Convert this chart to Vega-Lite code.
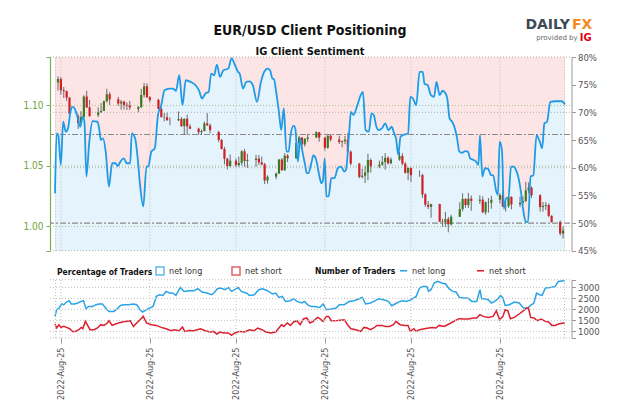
{
  "$schema": "https://vega.github.io/schema/vega-lite/v6.json",
  "width": 520,
  "height": 281,
  "autosize": {"type": "none"},
  "padding": {"left": 50, "top": 57, "right": 54, "bottom": 78},
  "background": "white",
  "title": {
    "text": "EUR/USD Client Positioning",
    "subtitle": "IG Client Sentiment",
    "frame": "group",
    "anchor": "middle",
    "offset": -39,
    "font": "DejaVu Sans Condensed, DejaVu Sans, sans-serif",
    "fontSize": 14,
    "fontWeight": "bold",
    "color": "#111",
    "subtitleFont": "DejaVu Sans Condensed, DejaVu Sans, sans-serif",
    "subtitleFontSize": 11,
    "subtitleFontWeight": "bold",
    "subtitleColor": "#111",
    "subtitlePadding": 8
  },
  "config": {
    "view": {"stroke": null},
    "font": "DejaVu Sans Condensed, DejaVu Sans, sans-serif"
  },
  "datasets": {
    "pct": [
      {"d":-2.05,"pct":55.4},{"d":-1.47,"pct":66.2},{"d":-0.92,"pct":65.9},{"d":0,"pct":60.5},{"d":0.79,"pct":68.3},{"d":1.71,"pct":66.5},{"d":2.49,"pct":67.1},{"d":3.32,"pct":70.1},{"d":4.0,"pct":71.0},{"d":4.78,"pct":70.7},{"d":5.91,"pct":68.9},{"d":6.73,"pct":67.4},{"d":7.62,"pct":69.2},{"d":8.2,"pct":68.3},{"d":8.89,"pct":58.4},{"d":9.91,"pct":64.7},{"d":11.04,"pct":68.4},{"d":12.75,"pct":68.3},{"d":13.33,"pct":67.1},{"d":13.91,"pct":65.0},{"d":14.7,"pct":65.3},{"d":15.62,"pct":62.9},{"d":16.75,"pct":56.6},{"d":17.87,"pct":60.8},{"d":19.04,"pct":60.8},{"d":19.82,"pct":60.3},{"d":20.74,"pct":61.1},{"d":21.87,"pct":61.7},{"d":23.0,"pct":60.8},{"d":24.16,"pct":60.8},{"d":24.71,"pct":66.2},{"d":25.87,"pct":65.3},{"d":26.76,"pct":61.7},{"d":27.58,"pct":56.9},{"d":28.71,"pct":53.0},{"d":29.84,"pct":60.2},{"d":30.42,"pct":60.2},{"d":31.54,"pct":62.9},{"d":32.71,"pct":63.5},{"d":33.83,"pct":69.5},{"d":34.96,"pct":71.3},{"d":36.12,"pct":74.0},{"d":37.83,"pct":74.3},{"d":38.96,"pct":74.3},{"d":40.09,"pct":73.9},{"d":41.25,"pct":76.7},{"d":42.38,"pct":71.3},{"d":43.51,"pct":75.8},{"d":45.22,"pct":75.5},{"d":46.92,"pct":74.9},{"d":48.09,"pct":74.0},{"d":49.21,"pct":72.5},{"d":50.34,"pct":73.4},{"d":51.5,"pct":73.7},{"d":52.38,"pct":77.0},{"d":53.41,"pct":76.7},{"d":54.34,"pct":78.6},{"d":55.47,"pct":76.4},{"d":56.63,"pct":77.6},{"d":58.34,"pct":77.9},{"d":59.47,"pct":79.75},{"d":60.6,"pct":78.6},{"d":61.76,"pct":77.3},{"d":62.31,"pct":77.0},{"d":63.47,"pct":74.3},{"d":64.59,"pct":75.5},{"d":65.72,"pct":75.6},{"d":66.88,"pct":74.9},{"d":68.35,"pct":71.9},{"d":69.72,"pct":75.5},{"d":70.85,"pct":77.3},{"d":72.01,"pct":77.9},{"d":72.9,"pct":77.6},{"d":73.72,"pct":76.1},{"d":74.27,"pct":76.0},{"d":74.85,"pct":74.3},{"d":75.97,"pct":70.1},{"d":76.79,"pct":66.8},{"d":77.68,"pct":70.7},{"d":78.6,"pct":62.9},{"d":79.39,"pct":62.9},{"d":79.97,"pct":65.6},{"d":81.1,"pct":67.6},{"d":81.68,"pct":67.1},{"d":82.6,"pct":61.1},{"d":83.39,"pct":65.3},{"d":83.97,"pct":63.5},{"d":85.1,"pct":60.5},{"d":85.68,"pct":59.0},{"d":86.23,"pct":59.0},{"d":87.39,"pct":61.1},{"d":87.94,"pct":62.2},{"d":88.52,"pct":62.0},{"d":89.1,"pct":61.1},{"d":90.23,"pct":58.1},{"d":90.81,"pct":57.2},{"d":91.35,"pct":57.8},{"d":91.93,"pct":61.7},{"d":92.52,"pct":54.8},{"d":93.3,"pct":54.8},{"d":94.22,"pct":58.1},{"d":95.35,"pct":58.1},{"d":96.48,"pct":59.9},{"d":97.64,"pct":60.2},{"d":98.77,"pct":59.3},{"d":99.35,"pct":59.6},{"d":100.48,"pct":66.5},{"d":101.06,"pct":70.1},{"d":101.95,"pct":69.5},{"d":103.32,"pct":71.3},{"d":104.48,"pct":73.1},{"d":105.26,"pct":73.7},{"d":106.19,"pct":66.8},{"d":107.31,"pct":66.5},{"d":108.24,"pct":69.8},{"d":109.02,"pct":69.5},{"d":109.95,"pct":67.4},{"d":110.73,"pct":66.8},{"d":111.86,"pct":67.1},{"d":113.02,"pct":68.0},{"d":114.15,"pct":66.8},{"d":115.28,"pct":67.4},{"d":116.1,"pct":66.2},{"d":116.78,"pct":65.3},{"d":117.57,"pct":62.3},{"d":118.35,"pct":65.6},{"d":119.28,"pct":65.9},{"d":120.98,"pct":66.2},{"d":121.77,"pct":72.8},{"d":122.69,"pct":72.5},{"d":123.82,"pct":71.3},{"d":124.98,"pct":77.3},{"d":126.11,"pct":77.3},{"d":126.69,"pct":75.2},{"d":127.82,"pct":74.9},{"d":128.95,"pct":73.1},{"d":130.04,"pct":72.8},{"d":130.89,"pct":75.5},{"d":132.02,"pct":73.1},{"d":132.95,"pct":73.9},{"d":134.07,"pct":73.4},{"d":134.65,"pct":72.5},{"d":135.44,"pct":68.9},{"d":136.36,"pct":68.3},{"d":137.29,"pct":67.1},{"d":138.07,"pct":65.3},{"d":138.86,"pct":62.9},{"d":139.78,"pct":62.7},{"d":140.91,"pct":63.0},{"d":141.83,"pct":62.9},{"d":142.62,"pct":61.7},{"d":143.78,"pct":61.4},{"d":144.67,"pct":61.1},{"d":145.49,"pct":60.5},{"d":146.04,"pct":65.9},{"d":146.86,"pct":58.4},{"d":147.74,"pct":59.9},{"d":148.91,"pct":59.8},{"d":149.79,"pct":58.7},{"d":150.62,"pct":58.6},{"d":151.74,"pct":55.7},{"d":152.32,"pct":55.1},{"d":152.87,"pct":64.7},{"d":153.69,"pct":63.2},{"d":154.37,"pct":52.6},{"d":155.16,"pct":54.5},{"d":155.95,"pct":54.5},{"d":156.87,"pct":60.2},{"d":157.79,"pct":60.2},{"d":158.58,"pct":59.6},{"d":159.36,"pct":58.4},{"d":160.29,"pct":55.7},{"d":161.21,"pct":52.0},{"d":162.0,"pct":50.2},{"d":162.78,"pct":50.2},{"d":163.71,"pct":58.4},{"d":164.63,"pct":58.6},{"d":165.76,"pct":65.9},{"d":166.88,"pct":64.7},{"d":167.7,"pct":63.5},{"d":168.49,"pct":68.0},{"d":169.41,"pct":68.3},{"d":170.54,"pct":71.9},{"d":172.25,"pct":72.0},{"d":174.54,"pct":72.0},{"d":175.67,"pct":71.4}
    ],
    "ohlc": [
      {"d":-1,"o":1.119,"h":1.124,"l":1.1122,"c":1.1218},{"d":0,"o":1.1218,"h":1.1233,"l":1.1089,"c":1.1126},{"d":1,"o":1.1126,"h":1.1152,"l":1.1062,"c":1.1118},{"d":2,"o":1.1118,"h":1.1122,"l":1.1037,"c":1.1065},{"d":3,"o":1.1065,"h":1.1068,"l":1.089,"c":1.0931},
      {"d":6,"o":1.0911,"h":1.093,"l":1.0806,"c":1.0855},{"d":7,"o":1.0855,"h":1.0952,"l":1.085,"c":1.0903},{"d":8,"o":1.0903,"h":1.1085,"l":1.09,"c":1.1073},{"d":9,"o":1.1073,"h":1.1121,"l":1.0978,"c":1.0984},{"d":10,"o":1.0984,"h":1.1045,"l":1.0906,"c":1.0912},
      {"d":13,"o":1.092,"h":1.0985,"l":1.0905,"c":1.0943},{"d":14,"o":1.0943,"h":1.1019,"l":1.094,"c":1.0955},{"d":15,"o":1.0955,"h":1.1041,"l":1.0953,"c":1.1034},{"d":16,"o":1.1034,"h":1.1138,"l":1.1024,"c":1.1093},{"d":17,"o":1.1093,"h":1.111,"l":1.1004,"c":1.105},
      {"d":20,"o":1.105,"h":1.107,"l":1.0998,"c":1.1016},{"d":21,"o":1.1016,"h":1.1045,"l":1.0965,"c":1.1031},{"d":22,"o":1.1031,"h":1.1039,"l":1.0965,"c":1.1004},{"d":23,"o":1.1004,"h":1.1025,"l":1.0962,"c":1.0999},{"d":24,"o":1.0999,"h":1.1038,"l":1.0962,"c":1.0984},
      {"d":27,"o":1.097,"h":1.0995,"l":1.0944,"c":1.0985},{"d":28,"o":1.0985,"h":1.1138,"l":1.098,"c":1.1087},{"d":29,"o":1.1087,"h":1.1185,"l":1.1066,"c":1.1158},{"d":30,"o":1.1158,"h":1.1183,"l":1.1063,"c":1.1067},{"d":31,"o":1.1067,"h":1.1077,"l":1.1027,"c":1.1046},
      {"d":34,"o":1.1046,"h":1.1055,"l":1.0968,"c":1.0971},{"d":35,"o":1.0971,"h":1.0988,"l":1.0898,"c":1.0905},{"d":36,"o":1.0905,"h":1.0937,"l":1.0869,"c":1.0902},{"d":37,"o":1.0902,"h":1.0939,"l":1.0873,"c":1.0878},{"d":38,"o":1.0878,"h":1.09,"l":1.0837,"c":1.0877},
      {"d":41,"o":1.0877,"h":1.095,"l":1.087,"c":1.0888},{"d":42,"o":1.0888,"h":1.0905,"l":1.0822,"c":1.0829},{"d":43,"o":1.0829,"h":1.0893,"l":1.0757,"c":1.089},{"d":44,"o":1.089,"h":1.0924,"l":1.0758,"c":1.0826},{"d":45,"o":1.0826,"h":1.0845,"l":1.0804,"c":1.0808},
      {"d":48,"o":1.0808,"h":1.0816,"l":1.0758,"c":1.0779},{"d":49,"o":1.0779,"h":1.08,"l":1.0758,"c":1.0788},{"d":50,"o":1.0788,"h":1.0867,"l":1.0786,"c":1.0852},{"d":51,"o":1.0852,"h":1.0936,"l":1.0832,"c":1.0835},{"d":52,"o":1.0835,"h":1.085,"l":1.077,"c":1.0796},
      {"d":55,"o":1.078,"h":1.079,"l":1.0697,"c":1.0715},{"d":56,"o":1.0715,"h":1.0722,"l":1.0636,"c":1.064},{"d":57,"o":1.064,"h":1.0658,"l":1.0514,"c":1.0559},{"d":58,"o":1.0559,"h":1.0567,"l":1.0471,"c":1.0498},{"d":59,"o":1.0498,"h":1.0594,"l":1.049,"c":1.0544},
      {"d":61,"o":1.0544,"h":1.0561,"l":1.049,"c":1.0507},{"d":62,"o":1.0507,"h":1.0577,"l":1.0492,"c":1.0525},{"d":63,"o":1.0525,"h":1.063,"l":1.0504,"c":1.0621},{"d":64,"o":1.0621,"h":1.0641,"l":1.0493,"c":1.0541},{"d":65,"o":1.0541,"h":1.06,"l":1.0484,"c":1.0549},
      {"d":68,"o":1.0549,"h":1.0592,"l":1.0493,"c":1.0561},{"d":69,"o":1.0561,"h":1.059,"l":1.0508,"c":1.053},{"d":70,"o":1.053,"h":1.0577,"l":1.0504,"c":1.0513},{"d":71,"o":1.0513,"h":1.0525,"l":1.035,"c":1.038},{"d":72,"o":1.038,"h":1.0423,"l":1.0354,"c":1.0411},
      {"d":75,"o":1.0411,"h":1.0445,"l":1.039,"c":1.0437},{"d":76,"o":1.0437,"h":1.0558,"l":1.0437,"c":1.0553},{"d":77,"o":1.0553,"h":1.0565,"l":1.046,"c":1.0465},{"d":78,"o":1.0465,"h":1.0606,"l":1.046,"c":1.0585},{"d":79,"o":1.0585,"h":1.0598,"l":1.0531,"c":1.0563},
      {"d":82,"o":1.0563,"h":1.0697,"l":1.056,"c":1.0689},{"d":83,"o":1.0689,"h":1.0749,"l":1.0642,"c":1.0735},{"d":84,"o":1.0735,"h":1.0737,"l":1.0643,"c":1.0678},{"d":85,"o":1.0678,"h":1.073,"l":1.066,"c":1.0724},{"d":86,"o":1.0724,"h":1.0765,"l":1.0699,"c":1.0735},
      {"d":89,"o":1.0735,"h":1.0787,"l":1.073,"c":1.0779},{"d":90,"o":1.0779,"h":1.078,"l":1.07,"c":1.0734},{"d":92,"o":1.0734,"h":1.074,"l":1.0627,"c":1.065},{"d":93,"o":1.065,"h":1.0754,"l":1.0642,"c":1.075},{"d":94,"o":1.075,"h":1.0764,"l":1.0702,"c":1.0718},
      {"d":97,"o":1.0718,"h":1.075,"l":1.0682,"c":1.0697},{"d":98,"o":1.0697,"h":1.071,"l":1.0654,"c":1.0705},{"d":99,"o":1.0705,"h":1.0748,"l":1.068,"c":1.0717},{"d":100,"o":1.0717,"h":1.0774,"l":1.0612,"c":1.0618},{"d":101,"o":1.0618,"h":1.0628,"l":1.0505,"c":1.0519},
      {"d":104,"o":1.0519,"h":1.0525,"l":1.0398,"c":1.041},{"d":105,"o":1.041,"h":1.0478,"l":1.0397,"c":1.042},{"d":106,"o":1.042,"h":1.05,"l":1.0359,"c":1.0447},{"d":107,"o":1.0447,"h":1.0601,"l":1.0382,"c":1.0549},{"d":108,"o":1.0549,"h":1.0562,"l":1.0445,"c":1.0497},
      {"d":111,"o":1.0497,"h":1.0544,"l":1.0481,"c":1.0511},{"d":112,"o":1.0511,"h":1.0582,"l":1.0502,"c":1.0532},{"d":113,"o":1.0532,"h":1.0606,"l":1.0469,"c":1.0567},{"d":114,"o":1.0567,"h":1.058,"l":1.0511,"c":1.0522},{"d":115,"o":1.0522,"h":1.057,"l":1.0514,"c":1.0553},
      {"d":118,"o":1.0553,"h":1.0615,"l":1.0543,"c":1.0583},{"d":119,"o":1.0583,"h":1.0606,"l":1.0506,"c":1.0519},{"d":120,"o":1.0519,"h":1.0532,"l":1.0437,"c":1.0443},{"d":121,"o":1.0443,"h":1.0487,"l":1.0382,"c":1.0484},{"d":122,"o":1.0484,"h":1.0486,"l":1.0366,"c":1.0424},
      {"d":125,"o":1.0424,"h":1.0463,"l":1.041,"c":1.0425},{"d":126,"o":1.0425,"h":1.0436,"l":1.0236,"c":1.0265},{"d":127,"o":1.0265,"h":1.0276,"l":1.0162,"c":1.018},{"d":128,"o":1.018,"h":1.021,"l":1.0144,"c":1.0163},{"d":129,"o":1.0163,"h":1.0187,"l":1.0072,"c":1.0185},
      {"d":132,"o":1.0185,"h":1.0188,"l":1.0036,"c":1.004},{"d":133,"o":1.004,"h":1.0065,"l":0.9999,"c":1.0036},{"d":134,"o":1.0036,"h":1.0121,"l":0.9998,"c":1.0061},{"d":135,"o":1.0061,"h":1.0079,"l":0.9952,"c":1.0018},{"d":136,"o":1.0018,"h":1.0097,"l":1.0007,"c":1.008},
      {"d":139,"o":1.008,"h":1.02,"l":1.0079,"c":1.0144},{"d":140,"o":1.0144,"h":1.0273,"l":1.0125,"c":1.0227},{"d":141,"o":1.0227,"h":1.0233,"l":1.0155,"c":1.0177},{"d":142,"o":1.0177,"h":1.0278,"l":1.0153,"c":1.023},{"d":143,"o":1.023,"h":1.0257,"l":1.013,"c":1.0212},
      {"d":146,"o":1.0212,"h":1.0258,"l":1.0185,"c":1.0222},{"d":147,"o":1.0222,"h":1.0249,"l":1.011,"c":1.0117},{"d":148,"o":1.0117,"h":1.0207,"l":1.0097,"c":1.02},{"d":149,"o":1.02,"h":1.0235,"l":1.0114,"c":1.0197},{"d":150,"o":1.0197,"h":1.0254,"l":1.0147,"c":1.0221},
      {"d":153,"o":1.0221,"h":1.0274,"l":1.019,"c":1.026},{"d":154,"o":1.026,"h":1.0294,"l":1.016,"c":1.0165},{"d":155,"o":1.0165,"h":1.02,"l":1.0123,"c":1.0168},{"d":156,"o":1.0168,"h":1.0254,"l":1.0154,"c":1.0245},{"d":157,"o":1.0245,"h":1.0249,"l":1.0141,"c":1.0182},
      {"d":160,"o":1.0182,"h":1.0248,"l":1.016,"c":1.0196},{"d":161,"o":1.0196,"h":1.0248,"l":1.018,"c":1.0211},{"d":162,"o":1.0211,"h":1.0368,"l":1.0201,"c":1.0298},{"d":163,"o":1.0298,"h":1.0364,"l":1.0274,"c":1.0321},{"d":164,"o":1.0321,"h":1.033,"l":1.0236,"c":1.0258},
      {"d":167,"o":1.0258,"h":1.0267,"l":1.0123,"c":1.016},{"d":168,"o":1.016,"h":1.0202,"l":1.0122,"c":1.017},{"d":169,"o":1.017,"h":1.0202,"l":1.0135,"c":1.0178},{"d":170,"o":1.0178,"h":1.0191,"l":1.0077,"c":1.0088},{"d":171,"o":1.0088,"h":1.0093,"l":1.0033,"c":1.0037},
      {"d":174,"o":1.0037,"h":1.005,"l":0.9926,"c":0.9942},{"d":175,"o":0.9942,"h":0.9999,"l":0.9901,"c":0.9967}
    ],
    "counts": [
      {"d":-2.05,"n":1682,"series":"net long"},{"d":-1.47,"n":1986,"series":"net long"},{"d":-0.58,"n":2063,"series":"net long"},{"d":0.24,"n":2245,"series":"net long"},{"d":1.03,"n":2214,"series":"net long"},{"d":1.95,"n":2336,"series":"net long"},{"d":2.84,"n":2395,"series":"net long"},{"d":3.66,"n":2245,"series":"net long"},{"d":4.78,"n":2245,"series":"net long"},{"d":5.91,"n":2291,"series":"net long"},{"d":7.07,"n":2364,"series":"net long"},{"d":7.86,"n":2395,"series":"net long"},{"d":8.78,"n":2032,"series":"net long"},{"d":9.67,"n":2136,"series":"net long"},{"d":11.04,"n":2136,"series":"net long"},{"d":12.2,"n":2214,"series":"net long"},{"d":13.33,"n":2245,"series":"net long"},{"d":14.46,"n":2245,"series":"net long"},{"d":15.62,"n":2063,"series":"net long"},{"d":16.75,"n":1909,"series":"net long"},{"d":18.46,"n":1909,"series":"net long"},{"d":19.58,"n":2018,"series":"net long"},{"d":20.74,"n":2182,"series":"net long"},{"d":21.87,"n":2214,"series":"net long"},{"d":23.58,"n":2214,"series":"net long"},{"d":25.29,"n":2245,"series":"net long"},{"d":26.42,"n":2214,"series":"net long"},{"d":27.58,"n":1986,"series":"net long"},{"d":28.47,"n":1882,"series":"net long"},{"d":29.29,"n":1941,"series":"net long"},{"d":30.42,"n":2032,"series":"net long"},{"d":32.13,"n":2136,"series":"net long"},{"d":33.25,"n":2591,"series":"net long"},{"d":34.42,"n":2668,"series":"net long"},{"d":35.54,"n":2636,"series":"net long"},{"d":36.67,"n":2818,"series":"net long"},{"d":37.83,"n":2745,"series":"net long"},{"d":38.96,"n":2745,"series":"net long"},{"d":40.09,"n":2636,"series":"net long"},{"d":41.59,"n":3000,"series":"net long"},{"d":42.96,"n":2818,"series":"net long"},{"d":44.67,"n":2850,"series":"net long"},{"d":46.38,"n":2850,"series":"net long"},{"d":47.74,"n":2941,"series":"net long"},{"d":49.21,"n":2791,"series":"net long"},{"d":50.92,"n":2745,"series":"net long"},{"d":52.63,"n":2668,"series":"net long"},{"d":53.76,"n":2818,"series":"net long"},{"d":54.58,"n":2941,"series":"net long"},{"d":55.71,"n":2973,"series":"net long"},{"d":57.18,"n":2895,"series":"net long"},{"d":58.34,"n":3000,"series":"net long"},{"d":59.47,"n":2818,"series":"net long"},{"d":60.6,"n":2895,"series":"net long"},{"d":61.76,"n":3000,"series":"net long"},{"d":62.88,"n":2818,"series":"net long"},{"d":64.59,"n":2745,"series":"net long"},{"d":65.72,"n":2636,"series":"net long"},{"d":67.43,"n":2668,"series":"net long"},{"d":68.93,"n":2895,"series":"net long"},{"d":70.3,"n":2941,"series":"net long"},{"d":72.01,"n":2850,"series":"net long"},{"d":73.72,"n":2700,"series":"net long"},{"d":74.85,"n":2745,"series":"net long"},{"d":75.97,"n":2545,"series":"net long"},{"d":77.14,"n":2591,"series":"net long"},{"d":78.26,"n":2364,"series":"net long"},{"d":79.97,"n":2395,"series":"net long"},{"d":81.1,"n":2486,"series":"net long"},{"d":82.26,"n":2364,"series":"net long"},{"d":83.97,"n":2291,"series":"net long"},{"d":84.86,"n":2364,"series":"net long"},{"d":86.23,"n":2182,"series":"net long"},{"d":87.39,"n":2136,"series":"net long"},{"d":88.52,"n":2136,"series":"net long"},{"d":90.23,"n":2091,"series":"net long"},{"d":91.35,"n":2245,"series":"net long"},{"d":92.52,"n":1986,"series":"net long"},{"d":94.22,"n":2018,"series":"net long"},{"d":95.93,"n":2063,"series":"net long"},{"d":97.06,"n":2214,"series":"net long"},{"d":98.77,"n":2214,"series":"net long"},{"d":100.48,"n":2364,"series":"net long"},{"d":102.19,"n":2395,"series":"net long"},{"d":103.9,"n":2486,"series":"net long"},{"d":105.02,"n":2545,"series":"net long"},{"d":106.19,"n":2245,"series":"net long"},{"d":107.9,"n":2291,"series":"net long"},{"d":109.6,"n":2395,"series":"net long"},{"d":110.73,"n":2486,"series":"net long"},{"d":112.44,"n":2441,"series":"net long"},{"d":114.15,"n":2364,"series":"net long"},{"d":115.28,"n":2168,"series":"net long"},{"d":116.44,"n":2245,"series":"net long"},{"d":118.15,"n":2364,"series":"net long"},{"d":119.28,"n":2395,"series":"net long"},{"d":120.41,"n":2364,"series":"net long"},{"d":122.12,"n":2441,"series":"net long"},{"d":123.82,"n":2591,"series":"net long"},{"d":124.98,"n":2973,"series":"net long"},{"d":126.11,"n":3045,"series":"net long"},{"d":127.48,"n":3045,"series":"net long"},{"d":128.16,"n":2818,"series":"net long"},{"d":128.95,"n":2895,"series":"net long"},{"d":130.11,"n":3200,"series":"net long"},{"d":131.24,"n":3273,"series":"net long"},{"d":132.71,"n":3200,"series":"net long"},{"d":134.07,"n":3155,"series":"net long"},{"d":135.24,"n":2941,"series":"net long"},{"d":136.6,"n":2818,"series":"net long"},{"d":137.73,"n":2791,"series":"net long"},{"d":138.86,"n":2545,"series":"net long"},{"d":140.36,"n":2518,"series":"net long"},{"d":141.73,"n":2518,"series":"net long"},{"d":143.2,"n":2364,"series":"net long"},{"d":144.91,"n":2364,"series":"net long"},{"d":146.04,"n":2895,"series":"net long"},{"d":146.62,"n":2486,"series":"net long"},{"d":147.74,"n":2486,"series":"net long"},{"d":148.91,"n":2441,"series":"net long"},{"d":150.03,"n":2291,"series":"net long"},{"d":151.16,"n":2364,"series":"net long"},{"d":152.32,"n":2486,"series":"net long"},{"d":153.21,"n":2636,"series":"net long"},{"d":154.03,"n":2518,"series":"net long"},{"d":154.82,"n":2182,"series":"net long"},{"d":156.29,"n":2214,"series":"net long"},{"d":158.0,"n":2336,"series":"net long"},{"d":159.71,"n":2291,"series":"net long"},{"d":161.21,"n":2063,"series":"net long"},{"d":162.58,"n":2063,"series":"net long"},{"d":163.71,"n":2182,"series":"net long"},{"d":164.83,"n":2291,"series":"net long"},{"d":165.76,"n":2745,"series":"net long"},{"d":166.88,"n":2668,"series":"net long"},{"d":167.7,"n":2636,"series":"net long"},{"d":168.83,"n":2973,"series":"net long"},{"d":170.54,"n":3000,"series":"net long"},{"d":172.25,"n":3045,"series":"net long"},{"d":173.37,"n":3273,"series":"net long"},{"d":175.08,"n":3304,"series":"net long"},{"d":175.67,"n":3304,"series":"net long"},
      {"d":-2.05,"n":1336,"series":"net short"},{"d":-1.47,"n":1155,"series":"net short"},{"d":-0.68,"n":1305,"series":"net short"},{"d":0,"n":1182,"series":"net short"},{"d":1.03,"n":1227,"series":"net short"},{"d":1.95,"n":1182,"series":"net short"},{"d":3.08,"n":1123,"series":"net short"},{"d":4.0,"n":1000,"series":"net short"},{"d":5.13,"n":1000,"series":"net short"},{"d":6.25,"n":1077,"series":"net short"},{"d":7.07,"n":1182,"series":"net short"},{"d":7.62,"n":1123,"series":"net short"},{"d":8.54,"n":1455,"series":"net short"},{"d":9.33,"n":1273,"series":"net short"},{"d":10.15,"n":1077,"series":"net short"},{"d":11.62,"n":1077,"series":"net short"},{"d":12.75,"n":1155,"series":"net short"},{"d":13.91,"n":1305,"series":"net short"},{"d":15.04,"n":1273,"series":"net short"},{"d":16.17,"n":1382,"series":"net short"},{"d":16.75,"n":1486,"series":"net short"},{"d":17.87,"n":1273,"series":"net short"},{"d":19.04,"n":1336,"series":"net short"},{"d":20.74,"n":1409,"series":"net short"},{"d":22.45,"n":1455,"series":"net short"},{"d":24.16,"n":1486,"series":"net short"},{"d":25.29,"n":1227,"series":"net short"},{"d":26.42,"n":1382,"series":"net short"},{"d":27.58,"n":1532,"series":"net short"},{"d":28.71,"n":1682,"series":"net short"},{"d":29.84,"n":1382,"series":"net short"},{"d":31.54,"n":1305,"series":"net short"},{"d":33.25,"n":1273,"series":"net short"},{"d":34.96,"n":1182,"series":"net short"},{"d":36.67,"n":1123,"series":"net short"},{"d":38.38,"n":1032,"series":"net short"},{"d":39.54,"n":1077,"series":"net short"},{"d":41.25,"n":1032,"series":"net short"},{"d":42.38,"n":1200,"series":"net short"},{"d":43.16,"n":1000,"series":"net short"},{"d":44.67,"n":1045,"series":"net short"},{"d":46.38,"n":1032,"series":"net short"},{"d":48.63,"n":1123,"series":"net short"},{"d":50.34,"n":1032,"series":"net short"},{"d":52.05,"n":973,"series":"net short"},{"d":53.21,"n":1000,"series":"net short"},{"d":54.34,"n":882,"series":"net short"},{"d":55.47,"n":973,"series":"net short"},{"d":56.63,"n":927,"series":"net short"},{"d":58.34,"n":927,"series":"net short"},{"d":59.47,"n":818,"series":"net short"},{"d":60.6,"n":927,"series":"net short"},{"d":62.31,"n":1000,"series":"net short"},{"d":64.02,"n":973,"series":"net short"},{"d":65.72,"n":1077,"series":"net short"},{"d":67.43,"n":1032,"series":"net short"},{"d":68.59,"n":1155,"series":"net short"},{"d":70.06,"n":1077,"series":"net short"},{"d":71.43,"n":973,"series":"net short"},{"d":73.14,"n":927,"series":"net short"},{"d":74.85,"n":973,"series":"net short"},{"d":75.97,"n":1155,"series":"net short"},{"d":76.9,"n":1305,"series":"net short"},{"d":77.68,"n":1227,"series":"net short"},{"d":78.84,"n":1382,"series":"net short"},{"d":79.97,"n":1273,"series":"net short"},{"d":81.1,"n":1427,"series":"net short"},{"d":82.26,"n":1486,"series":"net short"},{"d":83.39,"n":1305,"series":"net short"},{"d":84.52,"n":1564,"series":"net short"},{"d":85.68,"n":1609,"series":"net short"},{"d":86.81,"n":1382,"series":"net short"},{"d":87.94,"n":1455,"series":"net short"},{"d":88.52,"n":1532,"series":"net short"},{"d":89.44,"n":1636,"series":"net short"},{"d":90.23,"n":1577,"series":"net short"},{"d":91.35,"n":1455,"series":"net short"},{"d":92.52,"n":1682,"series":"net short"},{"d":93.3,"n":1682,"series":"net short"},{"d":94.22,"n":1486,"series":"net short"},{"d":96.48,"n":1500,"series":"net short"},{"d":98.77,"n":1532,"series":"net short"},{"d":99.9,"n":1305,"series":"net short"},{"d":101.06,"n":1123,"series":"net short"},{"d":102.77,"n":1077,"series":"net short"},{"d":104.48,"n":1000,"series":"net short"},{"d":105.6,"n":1182,"series":"net short"},{"d":106.73,"n":1155,"series":"net short"},{"d":107.9,"n":1077,"series":"net short"},{"d":109.02,"n":1155,"series":"net short"},{"d":110.15,"n":1273,"series":"net short"},{"d":111.86,"n":1273,"series":"net short"},{"d":113.02,"n":1227,"series":"net short"},{"d":114.49,"n":1227,"series":"net short"},{"d":115.86,"n":1305,"series":"net short"},{"d":116.78,"n":1455,"series":"net short"},{"d":118.15,"n":1305,"series":"net short"},{"d":119.86,"n":1273,"series":"net short"},{"d":120.98,"n":1273,"series":"net short"},{"d":121.77,"n":1000,"series":"net short"},{"d":123.03,"n":1123,"series":"net short"},{"d":123.82,"n":1000,"series":"net short"},{"d":124.98,"n":1077,"series":"net short"},{"d":126.69,"n":1123,"series":"net short"},{"d":128.16,"n":1155,"series":"net short"},{"d":129.53,"n":1182,"series":"net short"},{"d":130.66,"n":1155,"series":"net short"},{"d":131.82,"n":1273,"series":"net short"},{"d":133.53,"n":1227,"series":"net short"},{"d":135.24,"n":1336,"series":"net short"},{"d":136.95,"n":1455,"series":"net short"},{"d":138.65,"n":1577,"series":"net short"},{"d":140.36,"n":1564,"series":"net short"},{"d":142.07,"n":1564,"series":"net short"},{"d":143.78,"n":1609,"series":"net short"},{"d":144.91,"n":1609,"series":"net short"},{"d":146.04,"n":1759,"series":"net short"},{"d":147.2,"n":1682,"series":"net short"},{"d":148.91,"n":1636,"series":"net short"},{"d":150.62,"n":1682,"series":"net short"},{"d":151.74,"n":1941,"series":"net short"},{"d":152.87,"n":1532,"series":"net short"},{"d":154.03,"n":1682,"series":"net short"},{"d":154.82,"n":1986,"series":"net short"},{"d":155.74,"n":1941,"series":"net short"},{"d":156.63,"n":1577,"series":"net short"},{"d":158.0,"n":1636,"series":"net short"},{"d":159.71,"n":1791,"series":"net short"},{"d":161.21,"n":1941,"series":"net short"},{"d":162.34,"n":2063,"series":"net short"},{"d":162.92,"n":2063,"series":"net short"},{"d":163.71,"n":1636,"series":"net short"},{"d":164.83,"n":1609,"series":"net short"},{"d":166.0,"n":1486,"series":"net short"},{"d":167.36,"n":1564,"series":"net short"},{"d":168.83,"n":1455,"series":"net short"},{"d":169.96,"n":1427,"series":"net short"},{"d":171.12,"n":1273,"series":"net short"},{"d":172.25,"n":1273,"series":"net short"},{"d":173.37,"n":1336,"series":"net short"},{"d":175.08,"n":1382,"series":"net short"},{"d":175.67,"n":1382,"series":"net short"}
    ],
    "months": [{"d":-1.85},{"d":0},{"d":31},{"d":61},{"d":92},{"d":122},{"d":153},{"d":175.5}]
  },
  "layer": [
    {
      "layer": [
        {
          "data": {"name": "pct"},
          "mark": {"type": "area", "interpolate": "monotone", "color": "#fde4e5"},
          "encoding": {
            "x": {"field": "d", "type": "quantitative", "scale": {"domain": [-2.05, 175.67], "nice": false, "zero": false}},
            "y": {"field": "pct", "type": "quantitative", "scale": {"domain": [45, 80], "range": [193.7, 0], "nice": false, "zero": false},
              "axis": {"orient": "right", "values": [45, 50, 55, 60, 65, 70, 75, 80], "labelExpr": "datum.value + '%'", "title": null, "grid": false, "offset": 1.5, "domainColor": "#999", "tickColor": "#999", "tickSize": 4, "labelColor": "#555", "labelFontSize": 9.5, "labelPadding": 2}},
            "y2": {"datum": 80}
          }
        },
        {
          "data": {"name": "pct"},
          "mark": {"type": "area", "interpolate": "monotone", "color": "#e4f3fc"},
          "encoding": {
            "x": {"field": "d", "type": "quantitative"},
            "y": {"field": "pct", "type": "quantitative"},
            "y2": {"datum": 45}
          }
        },
        {
          "data": {"values": [{"k": "pct long"}, {"k": "pct short"}]},
          "mark": {"type": "square", "filled": true, "fill": "#ffffff", "strokeWidth": 1.6},
          "encoding": {
            "x": {"datum": 0, "type": "quantitative"},
            "y": {"datum": 60, "type": "quantitative"},
            "size": {"value": 0},
            "stroke": {"field": "k", "type": "nominal",
              "scale": {"domain": ["pct long", "pct short"], "range": ["#1e9be6", "#d8232a"]},
              "legend": {"title": "Percentage of Traders", "orient": "none", "legendX": 7, "legendY": 209, "direction": "horizontal", "titleOrient": "left", "titleFontSize": 8.5, "titleFontWeight": "bold", "titleColor": "#111", "titlePadding": 2, "labelFontSize": 9, "labelColor": "#333", "symbolType": "square", "symbolSize": 64, "columnPadding": 26, "labelOffset": 4,
                "labelExpr": "datum.value === 'pct long' ? 'net long' : 'net short'"}}
          }
        },
        {
          "data": {"values": [{"v": 60}, {"v": 70}, {"v": 80}, {"v": 45}]},
          "mark": {"type": "rule", "color": "#b0b0b0", "strokeWidth": 1, "strokeDash": [1, 2]},
          "encoding": {"y": {"field": "v", "type": "quantitative"}}
        },
        {
          "data": {"values": [{"v": 50}, {"v": 66}]},
          "mark": {"type": "rule", "color": "#8a8a8a", "strokeWidth": 1.2, "strokeDash": [6, 2, 2, 2]},
          "encoding": {"y": {"field": "v", "type": "quantitative"}}
        },
        {
          "data": {"name": "months"},
          "mark": {"type": "rule", "color": "#c0c0c0", "strokeWidth": 1, "strokeDash": [1, 2]},
          "encoding": {
            "x": {"field": "d", "type": "quantitative"},
            "y": {"datum": 45, "type": "quantitative"},
            "y2": {"datum": 80}
          }
        },
        {
          "data": {"values": [{"t": "DAILY"}]},
          "mark": {"type": "text", "align": "right", "baseline": "middle", "font": "DejaVu Sans", "fontWeight": "bold", "fontSize": 14, "color": "#3e4a5a"},
          "encoding": {"text": {"field": "t", "type": "nominal"}, "x": {"datum": 177.4, "type": "quantitative"}, "y": {"datum": 85.84, "type": "quantitative"}}
        },
        {
          "data": {"values": [{"t": "FX"}]},
          "mark": {"type": "text", "align": "left", "baseline": "middle", "font": "DejaVu Sans", "fontWeight": "bold", "fontSize": 14, "color": "#f58a1f"},
          "encoding": {"text": {"field": "t", "type": "nominal"}, "x": {"datum": 178.1, "type": "quantitative"}, "y": {"datum": 85.84, "type": "quantitative"}}
        },
        {
          "data": {"values": [{"t": "provided by"}]},
          "mark": {"type": "text", "align": "right", "baseline": "middle", "font": "DejaVu Sans", "fontSize": 7, "color": "#666"},
          "encoding": {"text": {"field": "t", "type": "nominal"}, "x": {"datum": 180.1, "type": "quantitative"}, "y": {"datum": 83.4, "type": "quantitative"}}
        },
        {
          "data": {"values": [{"t": "IG"}]},
          "mark": {"type": "text", "align": "left", "baseline": "middle", "font": "DejaVu Sans", "fontWeight": "bold", "fontSize": 10, "color": "#e3000f"},
          "encoding": {"text": {"field": "t", "type": "nominal"}, "x": {"datum": 180.8, "type": "quantitative"}, "y": {"datum": 83.4, "type": "quantitative"}}
        }
      ]
    },
    {
      "layer": [
        {
          "data": {"name": "ohlc"},
          "mark": {"type": "rule", "color": "#6b6b6b", "strokeWidth": 1},
          "encoding": {
            "x": {"field": "d", "type": "quantitative"},
            "y": {"field": "l", "type": "quantitative", "scale": {"domain": [0.98, 1.14], "range": [193.7, 0], "nice": false, "zero": false},
              "axis": {"orient": "left", "values": [0.98, 1.0, 1.05, 1.1, 1.14], "labelExpr": "datum.value < 0.99 || datum.value > 1.12 ? '' : format(datum.value, '.2f')", "title": null, "grid": false, "domainColor": "#7aad4e", "tickColor": "#7aad4e", "labelColor": "#6fa443", "tickSize": 4, "labelFontSize": 10, "labelPadding": 3, "domainWidth": 1.2}},
            "y2": {"field": "h"}
          }
        },
        {
          "data": {"values": [{"v": 1.0}, {"v": 1.05}, {"v": 1.1}]},
          "mark": {"type": "rule", "color": "#a9c08c", "strokeWidth": 1, "strokeDash": [1, 2]},
          "encoding": {"y": {"field": "v", "type": "quantitative"}}
        },
        {
          "data": {"name": "ohlc"},
          "mark": {"type": "bar", "width": 2.2},
          "encoding": {
            "x": {"field": "d", "type": "quantitative"},
            "y": {"field": "o", "type": "quantitative"},
            "y2": {"field": "c"},
            "color": {"condition": {"test": "datum.c >= datum.o", "value": "#3b7a1e"}, "value": "#d21f26"}
          }
        }
      ]
    },
    {
      "data": {"name": "pct"},
      "mark": {"type": "line", "interpolate": "monotone", "color": "#1e9be6", "strokeWidth": 1.8},
      "encoding": {
        "x": {"field": "d", "type": "quantitative"},
        "y": {"field": "pct", "type": "quantitative", "scale": {"domain": [45, 80], "range": [193.7, 0], "nice": false, "zero": false}, "axis": null}
      }
    },
    {
      "layer": [
        {
          "data": {"name": "counts"},
          "mark": {"type": "line", "strokeWidth": 1.5},
          "encoding": {
            "x": {"field": "d", "type": "quantitative",
              "axis": {"orient": "bottom", "values": [0, 31, 61, 92, 122, 153], "labelExpr": "'2022-Aug-25'", "labelAngle": -90, "labelAlign": "right", "labelBaseline": "middle", "title": null, "grid": false, "domain": false, "ticks": true, "tickColor": "#999", "tickSize": 5, "labelFontSize": 9, "labelColor": "#555", "labelPadding": 4, "labelOverlap": false, "labelBound": false, "labelFlush": false}},
            "y": {"field": "n", "type": "quantitative", "scale": {"domain": [700, 3350], "range": [281, 222.7], "nice": false, "zero": false},
              "axis": {"orient": "right", "values": [700, 1000, 1500, 2000, 2500, 3000, 3350], "labelExpr": "datum.value < 800 || datum.value > 3100 ? '' : format(datum.value, 'd')", "title": null, "grid": false, "offset": 1.5, "domainColor": "#999", "tickColor": "#999", "tickSize": 4, "labelColor": "#555", "labelFontSize": 9.5, "labelPadding": 2}},
            "color": {"field": "series", "type": "nominal",
              "scale": {"domain": ["net long", "net short"], "range": ["#2aa3e8", "#dc1f2e"]},
              "legend": {"title": "Number of Traders", "orient": "none", "legendX": 265, "legendY": 209, "direction": "horizontal", "titleOrient": "left", "titleFontSize": 8.5, "titleFontWeight": "bold", "titleColor": "#111", "titlePadding": 3, "labelFontSize": 9, "labelColor": "#333", "symbolType": "stroke", "symbolSize": 50, "symbolStrokeWidth": 1.6, "columnPadding": 27, "labelOffset": 4}}
          }
        },
        {
          "data": {"values": [{"v": 700}, {"v": 1000}, {"v": 1500}, {"v": 2000}, {"v": 2500}, {"v": 3000}, {"v": 3350}]},
          "mark": {"type": "rule", "color": "#c0c0c0", "strokeWidth": 1, "strokeDash": [1, 2]},
          "encoding": {"y": {"field": "v", "type": "quantitative"}}
        },
        {
          "data": {"name": "months"},
          "mark": {"type": "rule", "color": "#c0c0c0", "strokeWidth": 1, "strokeDash": [1, 2]},
          "encoding": {
            "x": {"field": "d", "type": "quantitative"},
            "y": {"datum": 700, "type": "quantitative"},
            "y2": {"datum": 3350}
          }
        }
      ]
    }
  ],
  "resolve": {"scale": {"y": "independent"}, "axis": {"y": "independent"}}
}
